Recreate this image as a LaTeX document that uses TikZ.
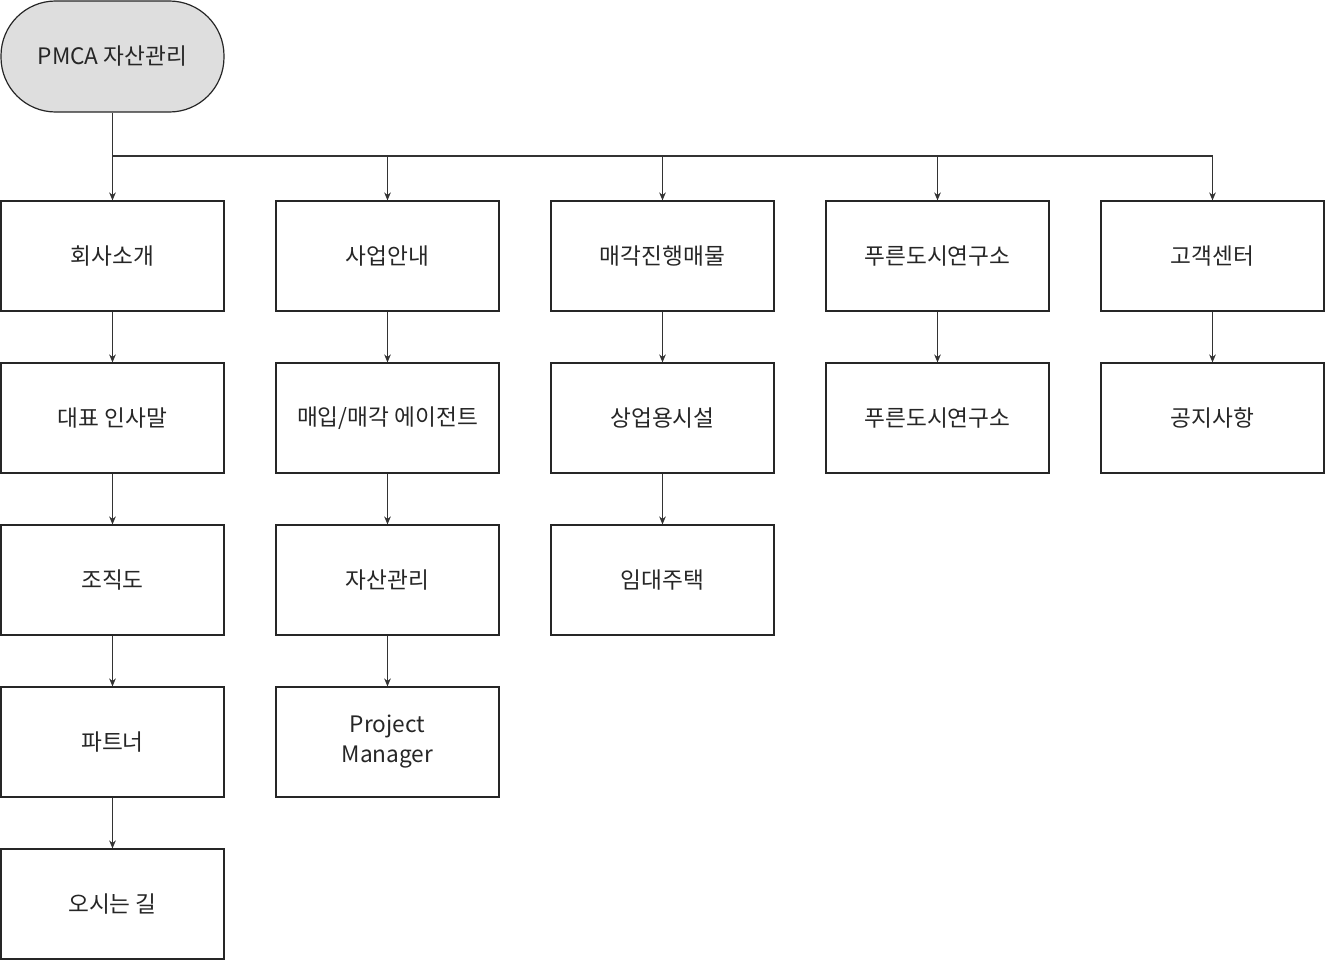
\documentclass[tikz,border=0pt]{standalone}
\usepackage{fontspec}
\setmainfont{Noto Sans CJK KR}
\usetikzlibrary{arrows.meta}
\begin{document}
\begin{tikzpicture}[x=0.75pt,y=-0.75pt,
  box/.style={draw=black!85,line width=0.9pt,minimum width=167.25pt,minimum height=82.5pt,inner sep=0pt,align=center,font=\fontsize{17}{22.5}\selectfont,text=black!85},
  conn/.style={draw=black!80,line width=0.8pt,-{Stealth[length=6pt,width=5pt]}}]
\useasboundingbox (0,0) rectangle (1325,960);
\node[box,fill=black!13,rounded corners=41pt,minimum height=83.25pt] (root) at (112.5,56.5) {PMCA 자산관리};
\def\cx#1{\ifcase#1\or 112.5\or 387.5\or 662.5\or 937.5\or 1212.5\fi}
\foreach \c/\r/\n/\t in {1/1/a1/회사소개,1/2/a2/대표 인사말,1/3/a3/조직도,1/4/a4/파트너,1/5/a5/오시는 길,
 2/1/b1/사업안내,2/2/b2/{매입/매각 에이전트},2/3/b3/자산관리,2/4/b4/{Project\\Manager},
 3/1/c1/매각진행매물,3/2/c2/상업용시설,3/3/c3/임대주택,
 4/1/d1/푸른도시연구소,4/2/d2/푸른도시연구소,
 5/1/e1/고객센터,5/2/e2/공지사항}
 \node[box] (\n) at (\cx{\c},{256+(\r-1)*162}) {\t};
\coordinate (bus) at (112.5,156);
\draw[black!80,line width=0.8pt] (root.south) -- (bus) -- (1212.5,156);
\foreach \n in {a1,b1,c1,d1,e1} \draw[conn] (bus -| \n.north) -- (\n.north);
\foreach \p/\q in {a1/a2,a2/a3,a3/a4,a4/a5,b1/b2,b2/b3,b3/b4,c1/c2,c2/c3,d1/d2,e1/e2}
 \draw[conn] (\p.south) -- (\q.north);
\end{tikzpicture}
\end{document}
